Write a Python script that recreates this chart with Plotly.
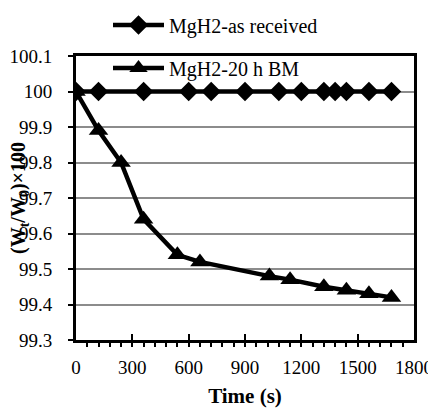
import plotly.graph_objects as go

# Data
time_received = [0, 120, 360, 600, 720, 900, 1080, 1200, 1320, 1380, 1440, 1560, 1680]
mass_received = [100, 100, 100, 100, 100, 100, 100, 100, 100, 100, 100, 100, 100]
time_bm = [0, 120, 240, 360, 540, 660, 1030, 1140, 1320, 1440, 1560, 1680]
mass_bm = [100, 99.89, 99.80, 99.64, 99.54, 99.52, 99.48, 99.47, 99.45, 99.44, 99.43, 99.42]
x_ticks = [0, 300, 600, 900, 1200, 1500, 1800]
y_ticks = [99.3, 99.4, 99.5, 99.6, 99.7, 99.8, 99.9, 100, 100.1]
y_tick_text = ["99.3", "99.4", "99.5", "99.6", "99.7", "99.8", "99.9", "100", "100.1"]

FONT = "Times New Roman, Liberation Serif, serif"
# page body has an 8px margin, so the figure is drawn 8px in from the corner
W, H = 428, 400
L, R, T, B = 68, 22, 48, 68
pw = W - L - R
ph = H - T - B

fig = go.Figure()
fig.add_trace(go.Scatter(
    x=time_received, y=mass_received, mode="lines+markers", name="MgH2-as received",
    line=dict(color="black", width=4.5),
    marker=dict(symbol="diamond", size=15, color="black"),
    legend="legend",
))
fig.add_trace(go.Scatter(
    x=time_bm, y=mass_bm, mode="lines+markers", name="MgH2-20 h BM",
    line=dict(color="black", width=4.5),
    marker=dict(symbol="triangle-up", size=17, color="black"),
    legend="legend2",
))

legend_common = dict(
    font=dict(family=FONT, size=20, color="black"),
    bgcolor="rgba(0,0,0,0)", itemwidth=51,
    xanchor="left", yanchor="middle", xref="paper", yref="paper",
)

fig.update_layout(
    template="none",
    width=W, height=H,
    margin=dict(l=L, r=R, t=T, b=B, autoexpand=False),
    paper_bgcolor="white", plot_bgcolor="white",
    font=dict(family=FONT, size=19, color="black"),
    showlegend=True,
    legend=dict(x=(100 - L) / pw, y=1 + (T - 17) / ph, **legend_common),
    legend2=dict(x=(100 - L) / pw, y=1 + (T - 60) / ph, **legend_common),
    xaxis=dict(
        range=[0, 1800], tickvals=x_ticks, ticktext=[str(v) for v in x_ticks],
        ticks="inside", ticklen=6, tickwidth=2, tickcolor="black",
        minor=dict(dtick=60, ticks="outside", ticklen=4, tickwidth=2, tickcolor="black"),
        showgrid=False, zeroline=False, automargin=False,
        showline=True, linecolor="black", linewidth=3, mirror=True,
        tickfont=dict(family=FONT, size=19, color="black"),
        ticklabelstandoff=8,
        title=dict(text="<b>Time (s)</b>", font=dict(family=FONT, size=21, color="black"), standoff=14),
    ),
    yaxis=dict(
        range=[99.3, 100.1], tickvals=y_ticks, ticktext=y_tick_text,
        ticks="outside", ticklen=5, tickwidth=2, tickcolor="black",
        showgrid=True, gridcolor="#8c8c8c", gridwidth=2,
        zeroline=False, automargin=False,
        showline=True, linecolor="black", linewidth=3, mirror=True,
        tickfont=dict(family=FONT, size=19, color="black"),
        ticklabelstandoff=12,
    ),
    annotations=[dict(
        text="<b>(W<sub>t</sub>/W<sub>0</sub>)×100</b>",
        xref="paper", yref="paper", x=(11 - L) / pw, y=0.5,
        xanchor="center", yanchor="middle", textangle=-90, showarrow=False,
        font=dict(family=FONT, size=20, color="black"),
    )],
)

fig.write_html("out.html")
